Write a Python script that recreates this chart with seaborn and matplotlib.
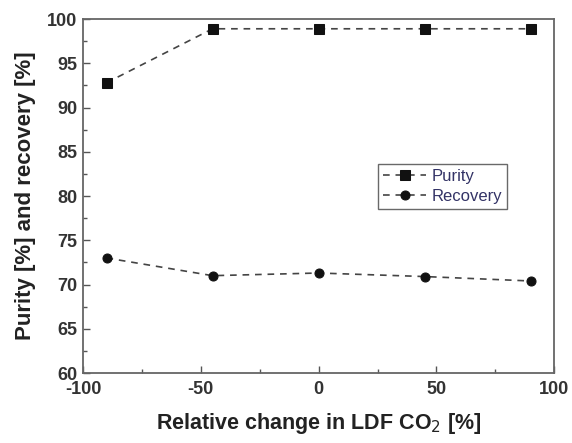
import matplotlib
matplotlib.use("Agg")
import matplotlib.pyplot as plt
import seaborn as sns
import pandas as pd
from matplotlib.ticker import MultipleLocator

x_change = [-90, -45, 0, 45, 90]
purity = [92.8, 98.9, 98.9, 98.9, 98.9]
recovery = [73.0, 71.0, 71.3, 70.9, 70.4]
series_names = ["Purity", "Recovery"]

sns.set_style("ticks")
plt.rcParams['font.family'] = ['Liberation Sans', 'DejaVu Sans']
plt.rcParams['axes.unicode_minus'] = False

df = pd.DataFrame({
    "x": x_change * 2,
    "y": purity + recovery,
    "series": [series_names[0]] * len(x_change) + [series_names[1]] * len(x_change),
})

fig = plt.figure(figsize=(5.72, 4.43), dpi=100)
ax = fig.add_axes([0.145, 0.158, 0.824, 0.799])

sns.lineplot(data=df, x="x", y="y", hue="series", style="series",
             markers={"Purity": "s", "Recovery": "o"},
             dashes={"Purity": (4, 3.5), "Recovery": (4, 3.5)},
             palette={"Purity": "#111111", "Recovery": "#111111"},
             markersize=6.5, linewidth=1.2, ax=ax, legend=True)
for ln in ax.lines:
    ln.set_color("#444444")
    ln.set_markerfacecolor("#111111")
    ln.set_markeredgecolor("#111111")

ax.set_xlim(-100, 100)
ax.set_ylim(60, 100)
ax.xaxis.set_major_locator(MultipleLocator(50))
ax.xaxis.set_minor_locator(MultipleLocator(25))
ax.yaxis.set_major_locator(MultipleLocator(5))
ax.yaxis.set_minor_locator(MultipleLocator(2.5))
ax.tick_params(which="both", direction="in", colors="#555555", labelcolor="#333333")
ax.tick_params(which="major", length=5, width=1, labelsize=13)
ax.tick_params(axis="x", which="major", pad=6)
ax.tick_params(axis="y", which="major", pad=4)
ax.tick_params(which="minor", length=3, width=1)
for lab in ax.get_xticklabels() + ax.get_yticklabels():
    lab.set_fontweight("bold")
for s in ax.spines.values():
    s.set_color("#666666")
    s.set_linewidth(1.3)
    s.set_visible(True)

ax.set_xlabel("Relative change in LDF CO$_2$ [%]", fontsize=15.5, fontweight="bold", color="#222222", labelpad=9)
ax.set_ylabel("Purity [%] and recovery [%]", fontsize=16, fontweight="bold", color="#222222", labelpad=8)

leg = ax.legend(loc="upper left", bbox_to_anchor=(0.626, 0.59), fontsize=12, frameon=True,
                fancybox=False, edgecolor="#444444", handlelength=2.6, handletextpad=0.3,
                borderpad=0.3, labelspacing=0.3, borderaxespad=0)
leg.get_frame().set_linewidth(1.0)
for t in leg.get_texts():
    t.set_color("#333366")

fig.savefig("out.png", dpi=100)
